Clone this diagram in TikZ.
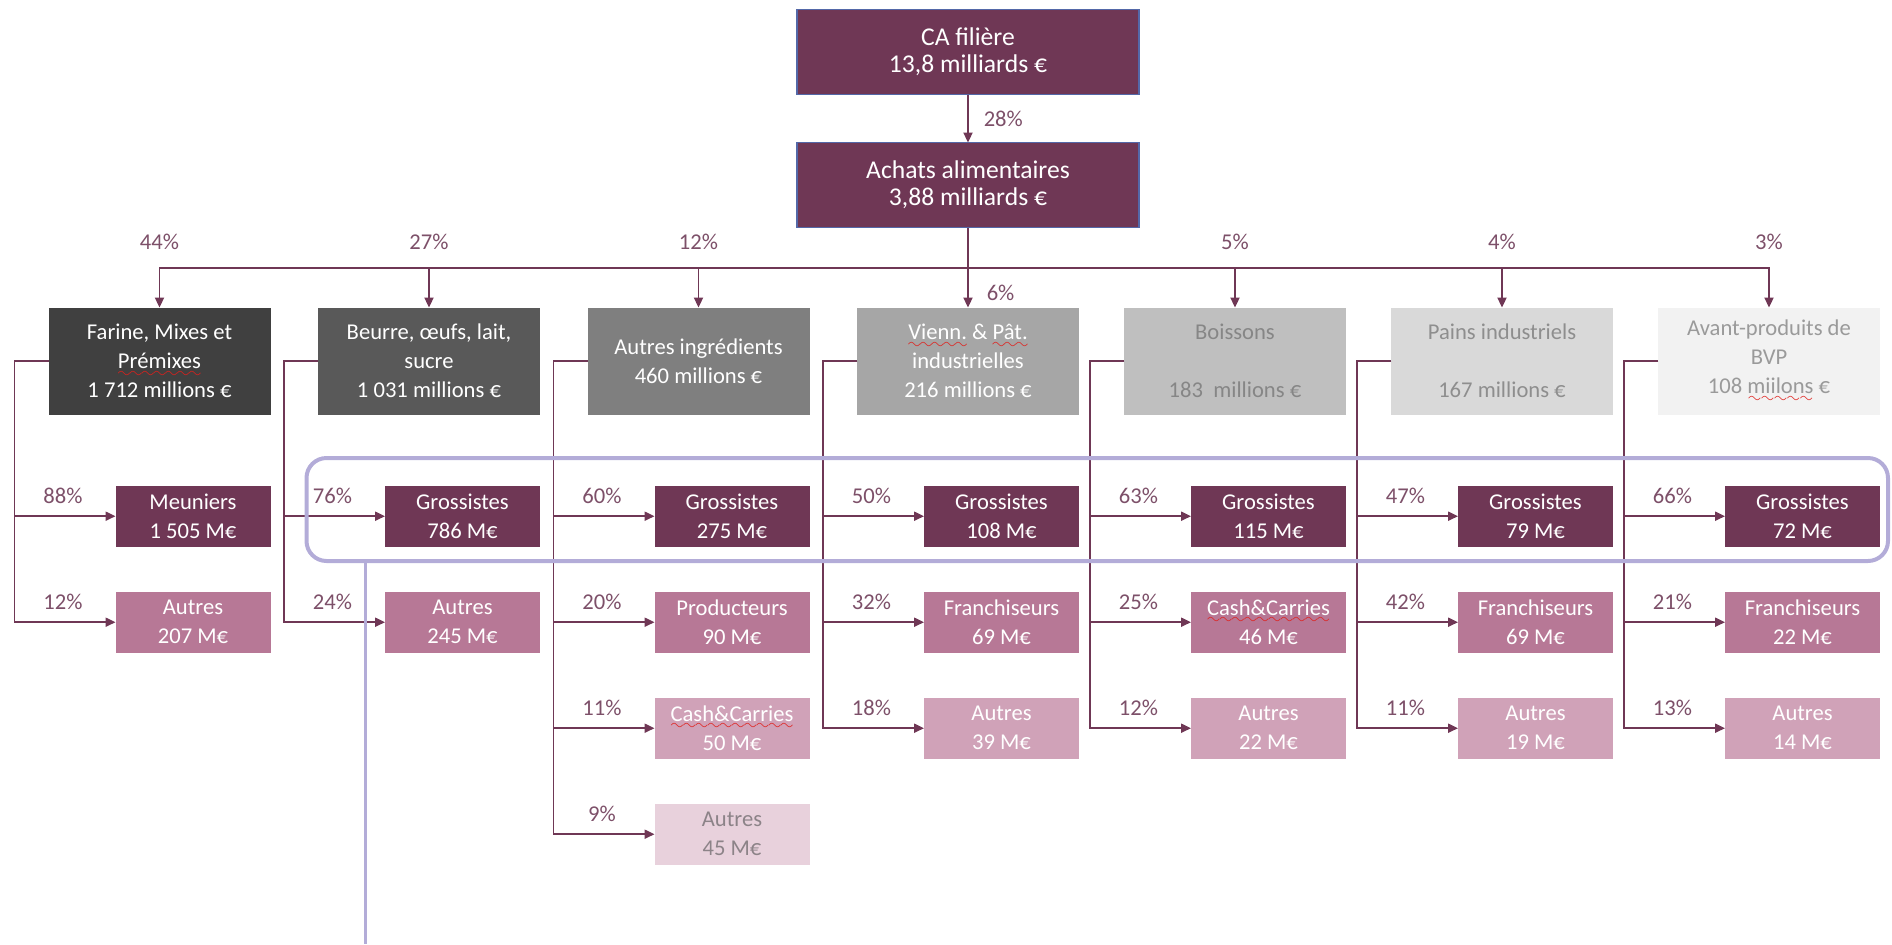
\documentclass[tikz,border=0pt]{standalone}
\usepackage{fontspec}
\setmainfont{Carlito}
\usetikzlibrary{arrows.meta}

\definecolor{plum}{HTML}{6F3755}
\definecolor{pinkmid}{HTML}{B77896}
\definecolor{pinklight}{HTML}{D0A2B8}
\definecolor{pinkpale}{HTML}{E8D1DC}
\definecolor{pctcol}{HTML}{7D5069}
\definecolor{hilite}{HTML}{B3ACD8}
\definecolor{topborder}{HTML}{5468A8}
\definecolor{squig}{HTML}{E0201C}
\definecolor{grayA}{HTML}{404040}
\definecolor{grayB}{HTML}{595959}
\definecolor{grayC}{HTML}{7F7F7F}
\definecolor{grayD}{HTML}{A6A6A6}
\definecolor{grayE}{HTML}{BFBFBF}
\definecolor{grayF}{HTML}{D9D9D9}
\definecolor{grayG}{HTML}{F2F2F2}
\definecolor{txtE}{HTML}{868686}
\definecolor{txtF}{HTML}{8E8E8E}
\definecolor{txtG}{HTML}{9A9A9A}
\definecolor{txtpale}{HTML}{8C8388}

\font\wavefont=lasy8
\newcommand{\spellerr}[1]{\leavevmode\setbox0=\hbox{#1}\rlap{\color{squig}\lower4.2pt\hbox to \wd0{\xleaders\hbox{\wavefont\char58}\hfil}}\box0\relax}
\newcommand{\boxfont}{\fontsize{11.3}{14.5}\selectfont}
\newcommand{\topfont}{\fontsize{12.8}{13.4}\selectfont}

\tikzstyle{topbox} = [rectangle, fill=plum, draw=topborder, line width=0.8pt, text=white, text width=165pt, text badly centered, minimum width=171pt, minimum height=42.5pt, inner sep=3pt, outer sep=0pt, font=\topfont]
\tikzstyle{catbox} = [rectangle, text width=105pt, text badly centered, minimum height=53.5pt, inner sep=3pt, outer sep=0pt, font=\boxfont]
\tikzstyle{subbox} = [rectangle, text=white, text width=71.5pt, text badly centered, minimum height=30.5pt, inner sep=3pt, outer sep=0pt, font=\boxfont]
\tikzstyle{arrow} = [draw=plum, line width=0.75pt, -{Triangle[length=5pt,width=4.6pt]}]
\tikzstyle{pct} = [font=\boxfont, text=pctcol, inner sep=0pt]
\tikzstyle{branchpct} = [pct, pos=0.74, above=5.8pt]
\tikzstyle{buspct} = [pct, pos=0.5, above=9pt]
\tikzstyle{highlight} = [rectangle, draw=hilite, line width=2pt, rounded corners=10pt, minimum width=790.75pt, minimum height=51.5pt, inner sep=0pt]
\tikzstyle{hiline} = [draw=hilite, line width=1.5pt]

\begin{document}
\begin{tikzpicture}[x=0.5pt, y=-0.5pt, node distance=134.75pt]
\useasboundingbox (0,0) rectangle (1892,944);

% top of the chain
\node (ca)       [topbox] at (968,52)  {CA filière\\13,8 milliards €};
\node (achats)   [topbox] at (968,185) {Achats alimentaires\\3,88 milliards €};

% product families
\node (vienn)    [catbox, fill=grayD, text=white] at (968,361) {\spellerr{Vienn.} \& \spellerr{Pât.}\\industrielles\\216 millions €};
\node (autring)  [catbox, fill=grayC, text=white, left of=vienn]   {Autres ingrédients\\460 millions €};
\node (beurre)   [catbox, fill=grayB, text=white, left of=autring] {Beurre, œufs, lait,\\sucre\\1~031 millions €};
\node (farine)   [catbox, fill=grayA, text=white, left of=beurre]  {Farine, Mixes et\\\spellerr{Prémixes}\\1~712 millions €};
\node (boissons) [catbox, fill=grayE, text=txtE, right of=vienn, node distance=133.5pt]    {Boissons\\\mbox{}\\183~ millions €};
\node (pains)    [catbox, fill=grayF, text=txtF, right of=boissons, node distance=133.5pt] {Pains industriels\\\mbox{}\\167 millions €};
\node (avant)    [catbox, fill=grayG, text=txtG, right of=pains, node distance=133.5pt]    {Avant-produits de\\BVP\\108 \spellerr{miilons} €};

% suppliers
\node (meun)  [subbox, fill=plum, below of=farine, node distance=77.6pt, xshift=16.75pt] {Meuniers\\1~505 M€};
\node (autA)  [subbox, fill=pinkmid, below of=meun, node distance=53pt] {Autres\\207 M€};

\node (grosB) [subbox, fill=plum, below of=beurre, node distance=77.6pt, xshift=16.75pt] {Grossistes\\786 M€};
\node (autB)  [subbox, fill=pinkmid, below of=grosB, node distance=53pt] {Autres\\245 M€};

\node (grosC) [subbox, fill=plum, below of=autring, node distance=77.6pt, xshift=16.75pt] {Grossistes\\275 M€};
\node (prodC) [subbox, fill=pinkmid, below of=grosC, node distance=53pt] {Producteurs\\90 M€};
\node (cashC) [subbox, fill=pinklight, below of=prodC, node distance=53pt] {\spellerr{Cash\&Carries}\\50 M€};
\node (autC)  [subbox, fill=pinkpale, text=txtpale, below of=cashC, node distance=53pt] {Autres\\45 M€};

\node (grosD) [subbox, fill=plum, below of=vienn, node distance=77.6pt, xshift=16.75pt] {Grossistes\\108 M€};
\node (franD) [subbox, fill=pinkmid, below of=grosD, node distance=53pt] {Franchiseurs\\69 M€};
\node (autD)  [subbox, fill=pinklight, below of=franD, node distance=53pt] {Autres\\39 M€};

\node (grosE) [subbox, fill=plum, below of=boissons, node distance=77.6pt, xshift=16.75pt] {Grossistes\\115 M€};
\node (cashE) [subbox, fill=pinkmid, below of=grosE, node distance=53pt] {\spellerr{Cash\&Carries}\\46 M€};
\node (autE)  [subbox, fill=pinklight, below of=cashE, node distance=53pt] {Autres\\22 M€};

\node (grosF) [subbox, fill=plum, below of=pains, node distance=77.6pt, xshift=16.75pt] {Grossistes\\79 M€};
\node (franF) [subbox, fill=pinkmid, below of=grosF, node distance=53pt] {Franchiseurs\\69 M€};
\node (autF)  [subbox, fill=pinklight, below of=franF, node distance=53pt] {Autres\\19 M€};

\node (grosG) [subbox, fill=plum, below of=avant, node distance=77.6pt, xshift=16.75pt] {Grossistes\\72 M€};
\node (franG) [subbox, fill=pinkmid, below of=grosG, node distance=53pt] {Franchiseurs\\22 M€};
\node (autG)  [subbox, fill=pinklight, below of=franG, node distance=53pt] {Autres\\14 M€};

% main flow
\draw [arrow] (ca) -- node [pct, midway, right=7.5pt] {28\%} (achats);
\draw [arrow] (achats) -- node [pct, pos=0.82, right=9pt] {6\%} (vienn);
\coordinate (bus) at (968,268);
\draw [arrow] (bus) -| node [buspct] {44\%} (farine);
\draw [arrow] (bus) -| node [buspct] {27\%} (beurre);
\draw [arrow] (bus) -| node [buspct] {12\%} (autring);
\draw [arrow] (bus) -| node [buspct] {5\%} (boissons);
\draw [arrow] (bus) -| node [buspct] {4\%} (pains);
\draw [arrow] (bus) -| node [buspct] {3\%} (avant);

% split per family
\draw [arrow] (farine.west) -- ++(-34,0) |- node [branchpct] {88\%} (meun);
\draw [arrow] (farine.west) -- ++(-34,0) |- node [branchpct] {12\%} (autA);

\draw [arrow] (beurre.west) -- ++(-34,0) |- node [branchpct] {76\%} (grosB);
\draw [arrow] (beurre.west) -- ++(-34,0) |- node [branchpct] {24\%} (autB);

\draw [arrow] (autring.west) -- ++(-34,0) |- node [branchpct] {60\%} (grosC);
\draw [arrow] (autring.west) -- ++(-34,0) |- node [branchpct] {20\%} (prodC);
\draw [arrow] (autring.west) -- ++(-34,0) |- node [branchpct] {11\%} (cashC);
\draw [arrow] (autring.west) -- ++(-34,0) |- node [branchpct] {9\%} (autC);

\draw [arrow] (vienn.west) -- ++(-34,0) |- node [branchpct] {50\%} (grosD);
\draw [arrow] (vienn.west) -- ++(-34,0) |- node [branchpct] {32\%} (franD);
\draw [arrow] (vienn.west) -- ++(-34,0) |- node [branchpct] {18\%} (autD);

\draw [arrow] (boissons.west) -- ++(-34,0) |- node [branchpct] {63\%} (grosE);
\draw [arrow] (boissons.west) -- ++(-34,0) |- node [branchpct] {25\%} (cashE);
\draw [arrow] (boissons.west) -- ++(-34,0) |- node [branchpct] {12\%} (autE);

\draw [arrow] (pains.west) -- ++(-34,0) |- node [branchpct] {47\%} (grosF);
\draw [arrow] (pains.west) -- ++(-34,0) |- node [branchpct] {42\%} (franF);
\draw [arrow] (pains.west) -- ++(-34,0) |- node [branchpct] {11\%} (autF);

\draw [arrow] (avant.west) -- ++(-34,0) |- node [branchpct] {66\%} (grosG);
\draw [arrow] (avant.west) -- ++(-34,0) |- node [branchpct] {21\%} (franG);
\draw [arrow] (avant.west) -- ++(-34,0) |- node [branchpct] {13\%} (autG);

% highlighted row of wholesalers
\node (hilite) [highlight] at (1097.25,509.5) {};
\coordinate (tail) at (365,944);
\draw [hiline] (hilite.south -| tail) -- (tail);
\end{tikzpicture}
\end{document}
